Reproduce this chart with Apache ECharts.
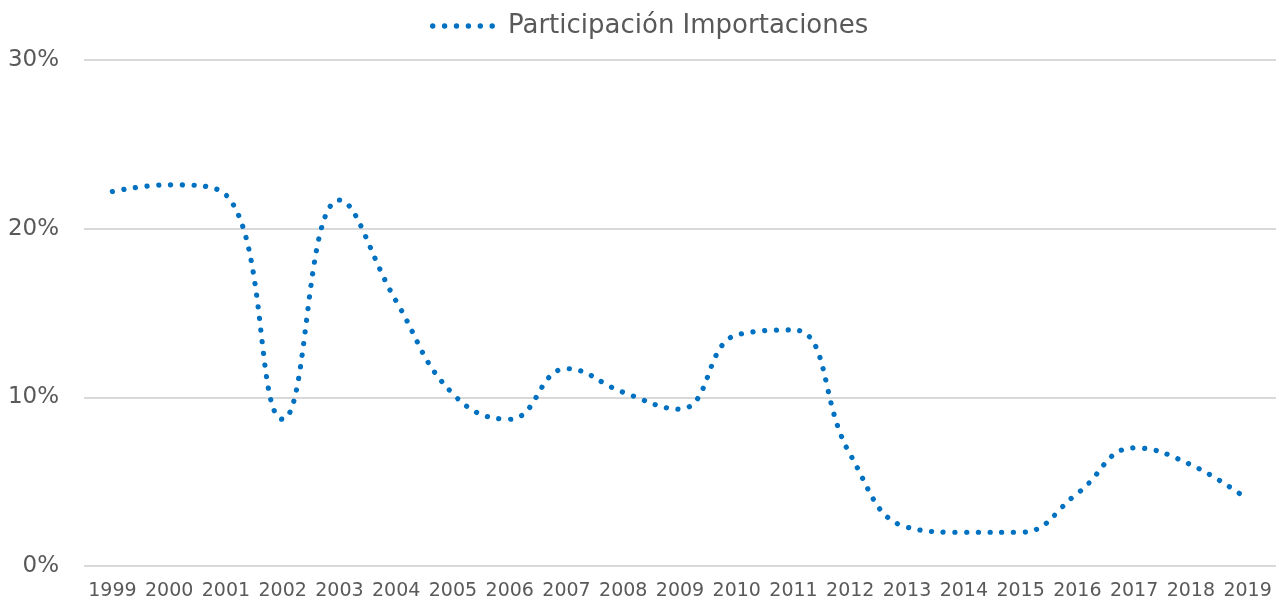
<!DOCTYPE html>
<html>
<head>
<meta charset="utf-8">
<script src="https://cdn.jsdelivr.net/npm/echarts@6/dist/echarts.min.js"></script>
<style>
  html, body { margin: 0; padding: 0; background: #fff; }
  #chart { width: 1276px; height: 602px; }
</style>
</head>
<body>
<div id="chart"></div>
<script>
// datos
var years = ['1999', '2000', '2001', '2002', '2003', '2004', '2005', '2006', '2007', '2008',
    '2009', '2010', '2011', '2012', '2013', '2014', '2015', '2016', '2017', '2018', '2019'];
var participacion = [22.2, 22.6, 22.0, 8.7, 21.7, 15.7, 10.2, 8.7, 11.7, 10.3,
    9.3, 13.7, 14.0, 6.6, 2.3, 2.0, 2.0, 4.3, 7.0, 6.0, 3.95];
var yTicks = [0, 10, 20, 30];

var textColor = '#595959';
var lineColor = '#0070C0';

// icono de leyenda: seis puntos
var dotsIcon = 'path://';
for (var i = 0; i < 6; i++) {
    var cx = 2.7 + i * 11.9;
    dotsIcon += 'M' + (cx - 2.7) + ',2.7a2.7,2.7 0 1,0 5.4,0a2.7,2.7 0 1,0 -5.4,0z';
}

var chart = echarts.init(document.getElementById('chart'));
var option = {
    backgroundColor: '#ffffff',
    animation: false,
    legend: {
        top: 8,
        left: 425,
        icon: dotsIcon,
        itemWidth: 65,
        itemHeight: 5.4,
        itemGap: 12,
        textStyle: {
            fontFamily: 'DejaVu Sans',
            fontSize: 26,
            color: textColor,
            padding: [0, 0, 0, 8]
        },
        data: ['Participación Importaciones']
    },
    grid: {
        left: 84,
        right: -5,
        top: 60,
        bottom: 36,
        containLabel: false
    },
    xAxis: {
        type: 'category',
        data: years,
        boundaryGap: true,
        axisLine: { show: false },
        axisTick: { show: false },
        axisLabel: {
            color: textColor,
            fontFamily: 'DejaVu Sans',
            fontSize: 19,
            margin: 16,
            interval: 0
        }
    },
    yAxis: {
        type: 'value',
        min: yTicks[0],
        max: yTicks[yTicks.length - 1],
        interval: 10,
        axisLine: { show: false },
        axisTick: { show: false },
        axisLabel: {
            color: textColor,
            fontFamily: 'DejaVu Sans',
            fontSize: 23,
            margin: 25,
            formatter: '{value}%'
        },
        splitLine: {
            lineStyle: { color: '#d9d9d9', width: 2 }
        }
    },
    series: [{
        name: 'Participación Importaciones',
        type: 'line',
        data: participacion,
        smooth: 0.45,
        symbol: 'none',
        color: lineColor,
        lineStyle: {
            color: lineColor,
            width: 5.2,
            type: [0.1, 11.6],
            cap: 'round'
        }
    }]
};
chart.setOption(option);
</script>
</body>
</html>
